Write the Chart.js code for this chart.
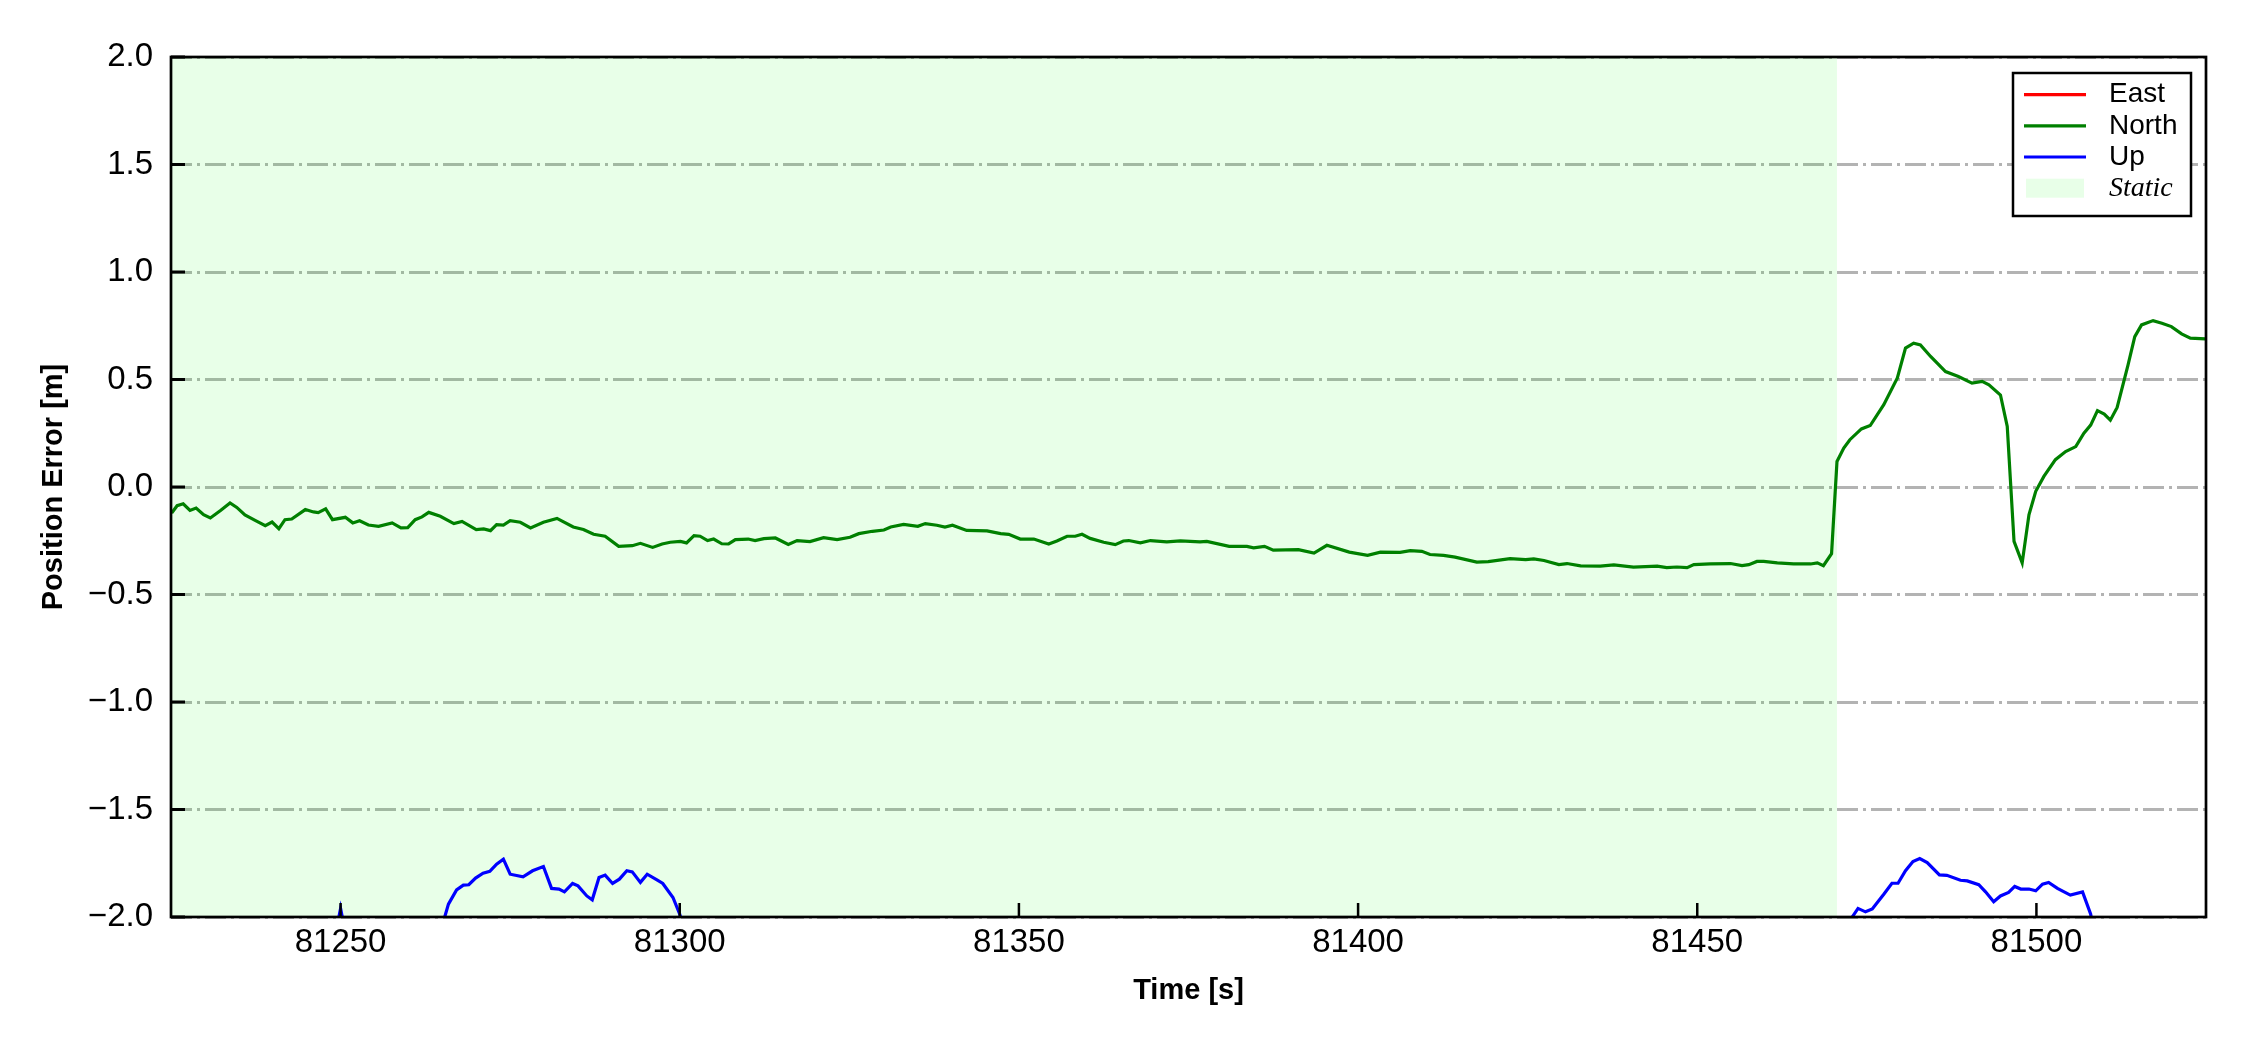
<!DOCTYPE html>
<html>
<head>
<meta charset="utf-8">
<script src="https://cdn.jsdelivr.net/npm/chart.js@4.4.0/dist/chart.umd.min.js"></script>
<style>
  html, body { margin: 0; padding: 0; background: #fff; }
  canvas { display: block; }
</style>
</head>
<body>
<canvas id="errChart" width="2250" height="1050"></canvas>
<script>
// axis ranges and tick labels
const xRange = [81225, 81525];
const yRange = [-2, 2];
const xTicks = [81250, 81300, 81350, 81400, 81450, 81500];
const yTicks = [-2, -1.5, -1, -0.5, 0, 0.5, 1, 1.5, 2];

// static interval (shaded)
const staticSpan = [81225, 81470.6];

// East: stays outside the plotted range, nothing visible
const eastTime = [];
const eastErr = [];

// North
const northTime = [
  81225.1, 81225.9, 81226.8, 81227.8, 81228.7, 81229.8, 81230.8, 81232.3, 81233.7, 81234.7,
  81235.9, 81237.4, 81238.9, 81239.9, 81240.9, 81241.8, 81242.8, 81244.8, 81246.0, 81246.7,
  81247.8, 81248.8, 81250.7, 81251.8, 81252.8, 81254.1, 81255.6, 81257.6, 81258.9, 81259.9,
  81261.0, 81262.0, 81263.0, 81264.7, 81266.7, 81267.9, 81270.0, 81271.1, 81272.1, 81273.0,
  81274.0, 81275.0, 81276.5, 81278.0, 81279.9, 81281.9, 81284.3, 81285.8, 81287.3, 81289.0,
  81291.0, 81293.0, 81294.2, 81296.0, 81297.4, 81298.6, 81300.1, 81301.0, 81302.1, 81303.0,
  81304.1, 81305.0, 81306.2, 81307.2, 81308.2, 81310.1, 81311.1, 81312.4, 81314.1, 81316.0,
  81317.3, 81319.2, 81321.2, 81323.2, 81325.1, 81326.4, 81328.4, 81330.1, 81331.1, 81333.0,
  81335.1, 81336.2, 81337.9, 81339.1, 81340.2, 81342.3, 81345.3, 81347.3, 81348.5, 81350.2,
  81352.2, 81354.4, 81355.6, 81357.1, 81358.3, 81359.3, 81360.5, 81362.5, 81364.2, 81365.4,
  81366.2, 81367.9, 81369.4, 81371.8, 81373.8, 81376.7, 81377.7, 81381.0, 81383.6, 81384.6,
  81386.2, 81387.5, 81391.2, 81393.5, 81395.4, 81398.7, 81401.4, 81403.3, 81406.2, 81407.7,
  81409.4, 81410.6, 81412.6, 81414.3, 81417.5, 81419.2, 81422.4, 81424.7, 81425.9, 81427.4,
  81429.6, 81430.8, 81432.8, 81435.7, 81437.7, 81440.6, 81444.1, 81445.5, 81447.0, 81448.5,
  81449.5, 81451.9, 81454.9, 81456.6, 81457.6, 81458.8, 81459.8, 81461.8, 81464.2, 81466.7,
  81467.7, 81468.6, 81469.8, 81470.6, 81471.6, 81472.5, 81474.2, 81475.5, 81477.5, 81479.5,
  81480.7, 81481.9, 81482.9, 81484.4, 81486.6, 81488.5, 81490.5, 81492.0, 81493.0, 81494.7,
  81495.7, 81496.7, 81497.9, 81498.9, 81499.9, 81501.1, 81502.8, 81504.3, 81505.8, 81507.0,
  81508.0, 81509.0, 81510.0, 81510.9, 81511.9, 81513.5, 81514.5, 81515.5, 81517.2, 81518.5,
  81519.9, 81521.4, 81522.7, 81524.9, 81525.5
];
const northErr = [
  -0.121, -0.087, -0.078, -0.109, -0.098, -0.129, -0.144, -0.109, -0.074, -0.095,
  -0.130, -0.155, -0.180, -0.163, -0.194, -0.152, -0.149, -0.105, -0.116, -0.119,
  -0.102, -0.152, -0.141, -0.167, -0.157, -0.177, -0.183, -0.167, -0.190, -0.189,
  -0.152, -0.139, -0.118, -0.136, -0.170, -0.160, -0.198, -0.195, -0.203, -0.175,
  -0.177, -0.157, -0.164, -0.190, -0.164, -0.146, -0.186, -0.198, -0.220, -0.229,
  -0.276, -0.273, -0.262, -0.281, -0.265, -0.257, -0.253, -0.260, -0.226, -0.229,
  -0.249, -0.242, -0.264, -0.265, -0.245, -0.242, -0.249, -0.240, -0.237, -0.267,
  -0.249, -0.254, -0.236, -0.245, -0.234, -0.217, -0.206, -0.200, -0.186, -0.174,
  -0.183, -0.170, -0.178, -0.186, -0.178, -0.202, -0.204, -0.217, -0.220, -0.242,
  -0.242, -0.265, -0.251, -0.229, -0.229, -0.220, -0.239, -0.257, -0.268, -0.251,
  -0.249, -0.260, -0.249, -0.255, -0.251, -0.255, -0.253, -0.276, -0.276, -0.283,
  -0.276, -0.294, -0.291, -0.307, -0.271, -0.303, -0.318, -0.303, -0.304, -0.296,
  -0.299, -0.314, -0.318, -0.326, -0.349, -0.347, -0.333, -0.338, -0.334, -0.342,
  -0.361, -0.356, -0.367, -0.368, -0.362, -0.373, -0.368, -0.375, -0.372, -0.375,
  -0.361, -0.358, -0.356, -0.366, -0.361, -0.346, -0.346, -0.353, -0.358, -0.358,
  -0.353, -0.366, -0.310, 0.119, 0.181, 0.220, 0.270, 0.286, 0.383, 0.507,
  0.646, 0.669, 0.661, 0.607, 0.537, 0.514, 0.483, 0.491, 0.475, 0.428,
  0.282, -0.253, -0.353, -0.129, -0.020, 0.049, 0.127, 0.165, 0.188, 0.250,
  0.288, 0.355, 0.339, 0.311, 0.370, 0.567, 0.699, 0.754, 0.774, 0.762,
  0.746, 0.712, 0.692, 0.689, 0.684
];

// Up (mostly below the plotted range)
const upTime = [
  81225.0, 81249.0, 81250.0, 81251.0, 81264.8, 81265.9, 81267.1, 81268.1, 81268.9, 81269.9,
  81271.0, 81272.0, 81273.0, 81274.0, 81275.0, 81276.9, 81278.3, 81279.9, 81281.1, 81282.2,
  81283.0, 81284.2, 81285.0, 81286.3, 81287.1, 81288.1, 81289.0, 81290.1, 81291.1, 81292.2,
  81293.0, 81294.2, 81295.2, 81296.7, 81297.5, 81299.0, 81300.0, 81301.0, 81472.0, 81473.7,
  81474.8, 81475.8, 81477.5, 81478.7, 81479.6, 81480.7, 81481.8, 81482.8, 81483.9, 81485.7,
  81486.8, 81488.8, 81489.8, 81491.5, 81492.5, 81493.7, 81494.7, 81495.9, 81496.8, 81497.7,
  81498.9, 81499.9, 81500.9, 81501.8, 81503.1, 81505.0, 81506.8, 81508.0, 81508.6, 81525.0
];
const upErr = [
  -2.40, -2.12, -1.96, -2.12, -2.06, -1.940, -1.874, -1.852, -1.850, -1.819,
  -1.796, -1.788, -1.754, -1.731, -1.801, -1.813, -1.785, -1.765, -1.867, -1.870,
  -1.883, -1.844, -1.855, -1.902, -1.920, -1.816, -1.805, -1.844, -1.824, -1.785,
  -1.790, -1.839, -1.801, -1.829, -1.844, -1.909, -1.987, -2.10, -2.04, -1.960,
  -1.976, -1.963, -1.894, -1.843, -1.843, -1.785, -1.742, -1.728, -1.747, -1.804,
  -1.806, -1.829, -1.832, -1.850, -1.883, -1.929, -1.902, -1.886, -1.858, -1.870,
  -1.870, -1.878, -1.847, -1.839, -1.867, -1.898, -1.883, -1.987, -2.10, -2.40
];

function toPoints(xs, ys) {
  return xs.map((x, i) => ({ x: x, y: ys[i] }));
}

// inward ticks + full box around the plot
const axisFrame = {
  id: 'axisFrame',
  afterDatasetsDraw(chart) {
    const { ctx, chartArea: a, scales: { x, y } } = chart;
    ctx.save();
    ctx.strokeStyle = '#000';
    ctx.lineCap = 'butt';
    ctx.lineWidth = 3;
    y.ticks.forEach(t => {
      const py = y.getPixelForValue(t.value);
      ctx.beginPath(); ctx.moveTo(a.left, py); ctx.lineTo(a.left + 14, py); ctx.stroke();
    });
    ctx.lineWidth = 2.5;
    x.ticks.forEach(t => {
      const px = x.getPixelForValue(t.value);
      ctx.beginPath(); ctx.moveTo(px, a.bottom); ctx.lineTo(px, a.bottom - 14); ctx.stroke();
    });
    ctx.lineWidth = 2.7;
    ctx.strokeRect(a.left, a.top, a.right - a.left, a.bottom - a.top);
    ctx.restore();
  }
};

// matplotlib style boxed legend, top right
const boxLegend = {
  id: 'boxLegend',
  afterDraw(chart) {
    const { ctx, chartArea: a } = chart;
    const sets = chart.data.datasets;
    const bx = a.right - 193, by = a.top + 16, bw = 178, bh = 143;
    ctx.save();
    ctx.fillStyle = '#fff';
    ctx.fillRect(bx, by, bw, bh);
    ctx.strokeStyle = '#000';
    ctx.lineWidth = 2.5;
    ctx.strokeRect(bx, by, bw, bh);
    sets.forEach((ds, i) => {
      const ry = by + 21.6 + i * 31.2;
      if (ds.fill) {
        ctx.fillStyle = ds.backgroundColor;
        ctx.fillRect(bx + 13, ry - 9.5, 58, 19);
      } else {
        ctx.strokeStyle = ds.borderColor;
        ctx.lineWidth = 3.2;
        ctx.beginPath(); ctx.moveTo(bx + 11, ry); ctx.lineTo(bx + 73, ry); ctx.stroke();
      }
      ctx.fillStyle = '#000';
      ctx.textBaseline = 'middle';
      ctx.textAlign = 'left';
      ctx.font = ds.fill ? "italic 28px 'Liberation Serif', 'Times New Roman', serif"
                         : "28px 'Liberation Sans', Arial, sans-serif";
      ctx.fillText(ds.label, bx + 96, ry);
    });
    ctx.restore();
  }
};

Chart.defaults.font.family = "'Liberation Sans', Arial, sans-serif";
Chart.defaults.color = '#000';

const ctx = document.getElementById('errChart').getContext('2d');
new Chart(ctx, {
  type: 'line',
  data: {
    datasets: [
      { label: 'East', data: toPoints(eastTime, eastErr), borderColor: '#ff0000', borderWidth: 3.2,
        pointRadius: 0, fill: false, clip: 0 },
      { label: 'North', data: toPoints(northTime, northErr), borderColor: '#008000', borderWidth: 3.2,
        pointRadius: 0, fill: false, clip: 0 },
      { label: 'Up', data: toPoints(upTime, upErr), borderColor: '#0000ff', borderWidth: 3.2,
        pointRadius: 0, fill: false, clip: 0 },
      { label: 'Static', data: staticSpan.map(t => ({ x: t, y: yRange[1] })),
        borderColor: 'transparent', borderWidth: 0, backgroundColor: 'rgba(0,255,0,0.09)',
        pointRadius: 0, fill: 'start', clip: 0 }
    ]
  },
  options: {
    responsive: false,
    animation: false,
    devicePixelRatio: 1,
    layout: { padding: { top: 57, right: 44, left: 0, bottom: 0 } },
    plugins: { legend: { display: false }, tooltip: { enabled: false } },
    scales: {
      x: {
        type: 'linear',
        min: xRange[0],
        max: xRange[1],
        afterBuildTicks: s => { s.ticks = xTicks.map(v => ({ value: v })); },
        afterFit: s => { s.height = 133; },
        grid: { display: false, drawTicks: false },
        border: { display: false },
        ticks: { padding: 6, font: { size: 33 }, maxRotation: 0, autoSkip: false,
                 callback: v => String(v) },
        title: { display: true, text: 'Time [s]', font: { size: 29, weight: 'bold' },
                 padding: { top: 0, bottom: 42 } }
      },
      y: {
        type: 'linear',
        min: yRange[0],
        max: yRange[1],
        afterBuildTicks: s => { s.ticks = yTicks.map(v => ({ value: v })); },
        afterFit: s => { s.width = 171; },
        grid: { color: '#b3b3b3', lineWidth: 3, drawTicks: false },
        border: { display: false, dash: [21, 5, 3, 5] },
        ticks: { padding: 18, font: { size: 33 }, autoSkip: false,
                 callback: v => v.toFixed(1).replace('-', '\u2212') },
        title: { display: true, text: 'Position Error [m]', font: { size: 29, weight: 'bold' },
                 padding: { top: 37, bottom: 0 } }
      }
    }
  },
  plugins: [axisFrame, boxLegend]
});
</script>
</body>
</html>
